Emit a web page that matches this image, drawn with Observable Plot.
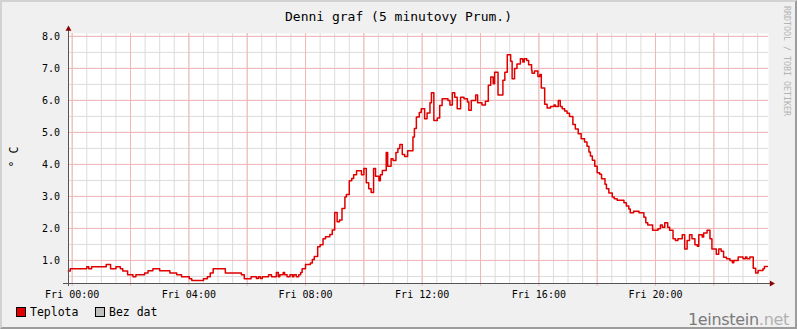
<!DOCTYPE html>
<html>
<head>
<meta charset="utf-8">
<script src="https://cdn.jsdelivr.net/npm/d3@7"></script>
<script src="https://cdn.jsdelivr.net/npm/@observablehq/plot@0.6"></script>
<style>
  html, body { margin: 0; padding: 0; background: #f0f0f0; }
  #wrap { position: relative; width: 797px; height: 329px; background: #f0f0f0; overflow: hidden; }
  #wrap > svg { position: absolute; left: 0; top: 0; }
  #border { position: absolute; left: 0; top: 0; width: 797px; height: 329px; box-sizing: border-box;
    border-top: 2px solid #d2d2d2; border-left: 2px solid #d2d2d2; border-bottom: 2px solid #9c9c9c; border-right: 2px solid #9c9c9c; pointer-events: none; }
</style>
</head>
<body>
<div id="wrap"></div>
<script>
// ---- Data ----
const title = "Denni graf (5 minutovy Prum.)";
const yLabel = "° C";
const seriesName = "Teplota";
const noDataName = "Bez dat";
// minutes after Fri 00:00 where the 5-minute average changes
const times = [-8,-4,30,34,40,70,79,90,99,104,114,125,131,149,156,166,180,201,215,225,241,246,270,278,284,290,315,348,354,368,
  379,383,387,391,404,410,420,424,427,434,437,442,448,453,456,461,466,470,473,480,490,494,498,505,510,516,521,530,535,540,545,550,555,561,564,570,575,579,585,595,600,605,610,615,620,624,631,634,638,646,649,656,660,666,670,674,679,684,690,701,704,708,714,718,725,
  730,736,739,744,751,756,761,773,777,782,787,792,799,806,813,816,821,830,834,843,850,856,861,866,869,876,886,890,895,902,905,910,915,922,927,930,935,939,945,946,951,958,962,965,972,977,984,991,994,1000,1004,1008,1013,1018,1023,1030,1035,1041,1047,1054,1059,1063,
  1066,1070,1075,1080,1085,1089,1096,1099,1104,1111,1115,1121,1135,1140,1145,1148,1155,1166,1176,1180,1184,1194,1205,1210,1214,1219,1225,1229,1236,1241,1246,1255,1260,1265,1270,1275,1281,1286,1289,1296,1299,1306,1312,1316,1325,1330,1335,1340,1346,1353,1358,1361,1370,1380,1385,1388,1394,1401,1406,1411,1421,1424,1430];
const temps = [0.67,0.74,0.80,0.74,0.80,0.875,0.74,0.80,0.74,0.67,0.55,0.49,0.55,0.61,0.68,0.74,0.68,0.61,0.55,0.49,0.43,0.37,0.43,0.49,0.61,0.74,0.61,0.55,0.43,0.49,
  0.44,0.49,0.44,0.49,0.55,0.49,0.62,0.49,0.55,0.62,0.55,0.49,0.55,0.49,0.55,0.49,0.55,0.62,0.74,0.87,0.92,1.03,1.12,1.43,1.49,1.68,1.74,1.81,1.95,2.50,2.21,2.26,2.62,2.98,3.06,3.49,3.56,3.68,3.80,3.68,3.87,3.43,3.24,3.12,3.87,3.63,3.49,3.68,3.81,4.37,3.94,4.18,4.12,4.37,4.50,4.62,4.31,4.25,4.43,4.86,5.12,5.48,5.62,5.74,5.43,
  5.61,5.93,6.24,5.37,5.45,5.84,6.05,6.00,5.86,6.24,6.10,5.74,6.10,6.05,5.95,5.69,6.00,6.17,5.93,5.86,5.97,6.47,6.73,6.52,6.88,6.17,6.63,6.88,7.43,7.22,6.68,7.00,7.14,7.30,7.20,7.30,7.25,7.11,6.94,6.85,6.92,6.75,6.81,6.39,5.88,5.76,5.81,5.86,5.81,6.00,5.81,5.74,5.67,5.60,5.50,5.25,5.11,4.96,4.80,4.70,4.57,4.39,
  4.26,4.13,3.94,3.74,3.69,3.55,3.38,3.24,3.11,2.98,2.93,2.88,2.80,2.70,2.61,2.49,2.54,2.49,2.35,2.18,2.11,1.94,1.99,2.11,2.04,2.18,2.04,1.94,1.68,1.62,1.68,1.80,1.36,1.62,1.80,1.68,1.49,1.44,1.80,1.73,1.86,1.94,1.68,1.36,1.19,1.36,1.29,1.10,1.05,1.00,0.93,1.00,1.11,1.05,1.11,1.05,1.11,0.76,0.61,0.69,0.74,0.81,0.81];
const xTickHours = [0, 4, 8, 12, 16, 20];
const yTicks = [1, 2, 3, 4, 5, 6, 7, 8];
const xDomainMinutes = [-7.6, 1432.4];
const yDomain = [0.28, 8.09];

// ---- Build ----
const base = Date.UTC(2000, 0, 7); // a Friday
const toDate = m => new Date(base + m * 60000);
const data = times.map((m, i) => ({t: toDate(m), v: temps[i]}));
const xDomain = xDomainMinutes.map(toDate);
const majorX = d3.range(0, 24, 2).map(h => toDate(h * 60));
const minorX = d3.range(0, 24, 0.5).map(h => toDate(h * 60));
const minorY = d3.range(0.5, 8.01, 0.5);
const xTicks = xTickHours.map(h => toDate(h * 60));

const axisColor = "#555";
const arrowColor = "#8b0000";

const chart = Plot.plot({
  width: 797, height: 329,
  marginLeft: 68, marginRight: 29, marginTop: 33, marginBottom: 46,
  style: {background: "transparent", fontFamily: "'DejaVu Sans Mono', monospace", fontSize: "10px", color: "#000", overflow: "visible"},
  x: {type: "utc", domain: xDomain, ticks: xTicks, tickFormat: d3.utcFormat("%a %H:%M"), tickSize: 0, tickPadding: 7, label: null},
  y: {domain: yDomain, ticks: yTicks, tickFormat: d3.format(".1f"), tickSize: 0, tickPadding: 8.5, label: null},
  marks: [
    Plot.frame({fill: "white", stroke: "none"}),
    Plot.ruleX(minorX, {stroke: "#dcdcdc"}),
    Plot.ruleY(minorY, {stroke: "#dcdcdc"}),
    Plot.ruleX(majorX, {stroke: "#f2b6b6", insetBottom: -3}),
    Plot.ruleY(yTicks, {stroke: "#f2b6b6"}),
    Plot.line(data, {x: "t", y: "v", curve: "step-after", stroke: "#e00000", strokeWidth: 1.5}),
    Plot.ruleY([yDomain[0]], {stroke: axisColor, insetLeft: -5, insetRight: -2}),
    Plot.ruleX([xDomain[0]], {stroke: axisColor, insetTop: -3, insetBottom: -3}),
    Plot.dot([{x: xDomain[0], y: yDomain[1]}], {x: "x", y: "y", dy: -4.5, symbol: "triangle", r: 2.2, fill: arrowColor, stroke: "none"}),
    Plot.dot([{x: xDomain[1], y: yDomain[0]}], {x: "x", y: "y", dx: 3, symbol: "triangle", r: 2.2, rotate: 90, fill: arrowColor, stroke: "none"})
  ]
});

const wrap = document.getElementById("wrap");
wrap.appendChild(chart);

// annotations (title, labels, legend)
const ov = d3.create("svg").attr("width", 797).attr("height", 329)
  .style("font-family", "'DejaVu Sans Mono', monospace");
ov.append("text").attr("x", 398.5).attr("y", 21).attr("text-anchor", "middle")
  .attr("font-size", 13).attr("fill", "#000").text(title);
ov.append("text").attr("transform", "translate(18,157) rotate(-90)").attr("text-anchor", "middle")
  .attr("font-size", 11.5).attr("fill", "#000").text(yLabel);
ov.append("text").attr("transform", "translate(783.5,6) rotate(90)").attr("text-anchor", "start")
  .attr("font-size", 8.3).attr("fill", "#b4b4b4").text("RRDTOOL / TOBI OETIKER");
// legend
ov.append("rect").attr("x", 16.5).attr("y", 307.5).attr("width", 9).attr("height", 9).attr("fill", "#e00000").attr("stroke", "#000");
ov.append("text").attr("x", 30).attr("y", 316).attr("font-size", 11.5).attr("fill", "#000").text(seriesName);
ov.append("rect").attr("x", 95.5).attr("y", 307.5).attr("width", 9).attr("height", 9).attr("fill", "#c0c0c0").attr("stroke", "#000");
ov.append("text").attr("x", 109).attr("y", 316).attr("font-size", 11.5).attr("fill", "#000").text(noDataName);
// watermark
const wm = ov.append("text").attr("x", 789).attr("y", 325).attr("text-anchor", "end")
  .attr("font-family", "'DejaVu Sans', sans-serif").attr("font-size", 16).attr("letter-spacing", -0.3);
wm.append("tspan").attr("fill", "#7a7a7a").text("1einstein");
wm.append("tspan").attr("fill", "#b0b0b0").text(".net");
wrap.appendChild(ov.node());

const border = document.createElement("div");
border.id = "border";
wrap.appendChild(border);
</script>
</body>
</html>
